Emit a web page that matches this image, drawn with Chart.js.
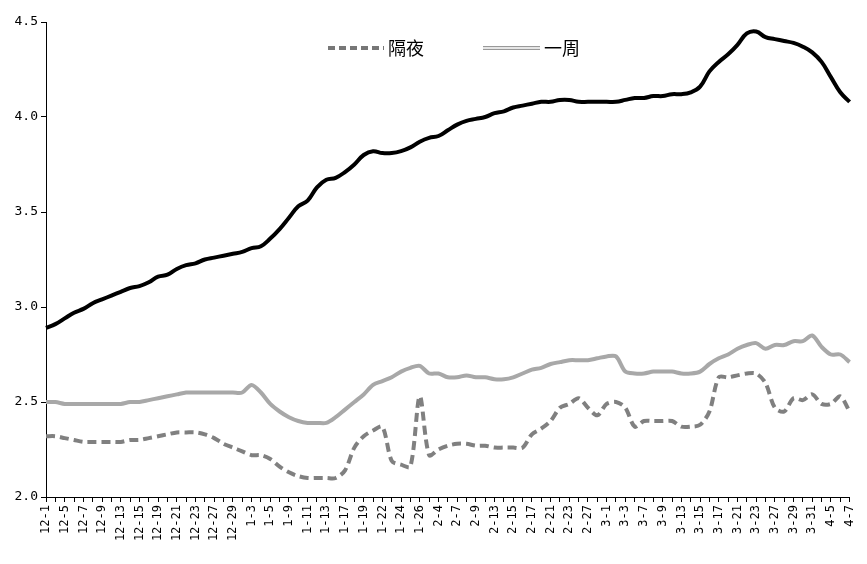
<!DOCTYPE html>
<html>
<head>
<meta charset="utf-8">
<script src="https://cdn.jsdelivr.net/npm/chart.js@4/dist/chart.umd.min.js"></script>
<style>
body { margin: 0; background: #fff; }
#wrap { width: 867px; height: 564px; }
</style>
</head>
<body>
<div id="wrap"><canvas id="c"></canvas></div>
<script>
const dates = ["12-1","12-2","12-5","12-6","12-7","12-8","12-9","12-12","12-13","12-14","12-15","12-16","12-19","12-20","12-21","12-22","12-23","12-26","12-27","12-28","12-29","12-30",
  "1-3","1-4","1-5","1-6","1-9","1-10","1-11","1-12","1-13","1-16","1-17","1-18","1-19","1-20","1-22","1-23","1-24","1-25","1-26",
  "2-3","2-4","2-6","2-7","2-8","2-9","2-10","2-13","2-14","2-15","2-16","2-17","2-20","2-21","2-22","2-23","2-24","2-27","2-28",
  "3-1","3-2","3-3","3-6","3-7","3-8","3-9","3-10","3-13","3-14","3-15","3-16","3-17","3-20","3-21","3-22","3-23","3-24","3-27","3-28","3-29","3-30","3-31",
  "4-1","4-5","4-6","4-7"];

const blackLine = [2.89,2.91,2.94,2.97,2.99,3.02,3.04,3.06,3.08,3.10,3.11,3.13,3.16,3.17,3.20,3.22,3.23,3.25,3.26,3.27,3.28,3.29,
  3.31,3.32,3.36,3.41,3.47,3.53,3.56,3.63,3.67,3.68,3.71,3.75,3.80,3.82,3.81,3.81,3.82,3.84,3.87,
  3.89,3.90,3.93,3.96,3.98,3.99,4.00,4.02,4.03,4.05,4.06,4.07,4.08,4.08,4.09,4.09,4.08,4.08,4.08,
  4.08,4.08,4.09,4.10,4.10,4.11,4.11,4.12,4.12,4.13,4.16,4.24,4.29,4.33,4.38,4.44,4.45,4.42,4.41,4.40,4.39,4.37,4.34,
  4.29,4.21,4.13,4.08];

const overnight = [2.32,2.32,2.31,2.30,2.29,2.29,2.29,2.29,2.29,2.30,2.30,2.31,2.32,2.33,2.34,2.34,2.34,2.33,2.31,2.28,2.26,2.24,
  2.22,2.22,2.20,2.16,2.13,2.11,2.10,2.10,2.10,2.10,2.14,2.26,2.32,2.35,2.37,2.19,2.17,2.16,2.53,
  2.22,2.25,2.27,2.28,2.28,2.27,2.27,2.26,2.26,2.26,2.26,2.33,2.36,2.40,2.47,2.49,2.52,2.47,2.43,
  2.49,2.50,2.47,2.37,2.40,2.40,2.40,2.40,2.37,2.37,2.38,2.45,2.63,2.63,2.64,2.65,2.65,2.60,2.47,2.45,2.52,2.51,2.54,
  2.49,2.49,2.53,2.45];

const oneWeek = [2.50,2.50,2.49,2.49,2.49,2.49,2.49,2.49,2.49,2.50,2.50,2.51,2.52,2.53,2.54,2.55,2.55,2.55,2.55,2.55,2.55,2.55,
  2.59,2.55,2.49,2.45,2.42,2.40,2.39,2.39,2.39,2.42,2.46,2.50,2.54,2.59,2.61,2.63,2.66,2.68,2.69,
  2.65,2.65,2.63,2.63,2.64,2.63,2.63,2.62,2.62,2.63,2.65,2.67,2.68,2.70,2.71,2.72,2.72,2.72,2.73,
  2.74,2.74,2.66,2.65,2.65,2.66,2.66,2.66,2.65,2.65,2.66,2.70,2.73,2.75,2.78,2.80,2.81,2.78,2.80,2.80,2.82,2.82,2.85,
  2.79,2.75,2.75,2.71];

const yTicks = [2, 2.5, 3, 3.5, 4, 4.5];

// hand-drawn legend, only the two named series
const legendPlugin = {
  id: "legendDraw",
  afterDraw(chart) {
    const ctx = chart.ctx;
    ctx.save();
    ctx.font = "18px 'Noto Sans CJK SC'";
    ctx.textBaseline = "middle";
    const y = 48;
    ctx.strokeStyle = "#777";
    ctx.lineWidth = 4;
    ctx.setLineDash([7, 4]);
    ctx.beginPath(); ctx.moveTo(328, y); ctx.lineTo(384, y); ctx.stroke();
    ctx.setLineDash([]);
    ctx.fillStyle = "#000";
    ctx.fillText("隔夜", 388, y);
    ctx.strokeStyle = "#999";
    ctx.lineWidth = 4;
    ctx.beginPath(); ctx.moveTo(483, y); ctx.lineTo(540, y); ctx.stroke();
    ctx.strokeStyle = "#fff";
    ctx.lineWidth = 1.5;
    ctx.beginPath(); ctx.moveTo(483, y); ctx.lineTo(540, y); ctx.stroke();
    ctx.fillText("一周", 544, y);
    ctx.restore();
  }
};

new Chart(document.getElementById("c"), {
  type: "line",
  data: {
    labels: dates,
    datasets: [
      { data: blackLine, borderColor: "#000", borderWidth: 4, pointRadius: 0, tension: 0.4 },
      { data: overnight, borderColor: "#808080", borderWidth: 4, borderDash: [9, 5], pointRadius: 0, tension: 0.3 },
      { data: oneWeek, borderColor: "#a8a8a8", borderWidth: 4, pointRadius: 0, tension: 0.3 },
      { data: oneWeek, borderColor: "#fff", borderWidth: 1.5, pointRadius: 0, tension: 0.3 }
    ]
  },
  options: {
    responsive: true,
    maintainAspectRatio: false,
    animation: false,
    layout: { padding: { top: 22, right: 17, left: 0, bottom: 0 } },
    plugins: { legend: { display: false }, tooltip: { enabled: false } },
    scales: {
      x: {
        offset: false,
        border: { color: "#000", width: 1 },
        grid: { drawOnChartArea: false, drawTicks: true, tickLength: 5, color: "#000" },
        ticks: {
          autoSkip: false, maxRotation: 90, minRotation: 90,
          color: "#000", font: { family: "'DejaVu Sans Mono'", size: 12 },
          callback: (v, i) => i % 2 === 0 ? dates[i] : ""
        },
        afterFit: s => { s.height = 67; }
      },
      y: {
        min: 2, max: 4.5,
        border: { color: "#000", width: 1 },
        grid: { drawOnChartArea: false, tickLength: 5, color: "#000" },
        afterBuildTicks: s => { s.ticks = yTicks.map(v => ({ value: v })); },
        ticks: { color: "#000", font: { family: "'DejaVu Sans Mono'", size: 13 }, padding: 3 },
        afterFit: s => { s.width = 46; }
      }
    }
  },
  plugins: [legendPlugin]
});
</script>
</body>
</html>
